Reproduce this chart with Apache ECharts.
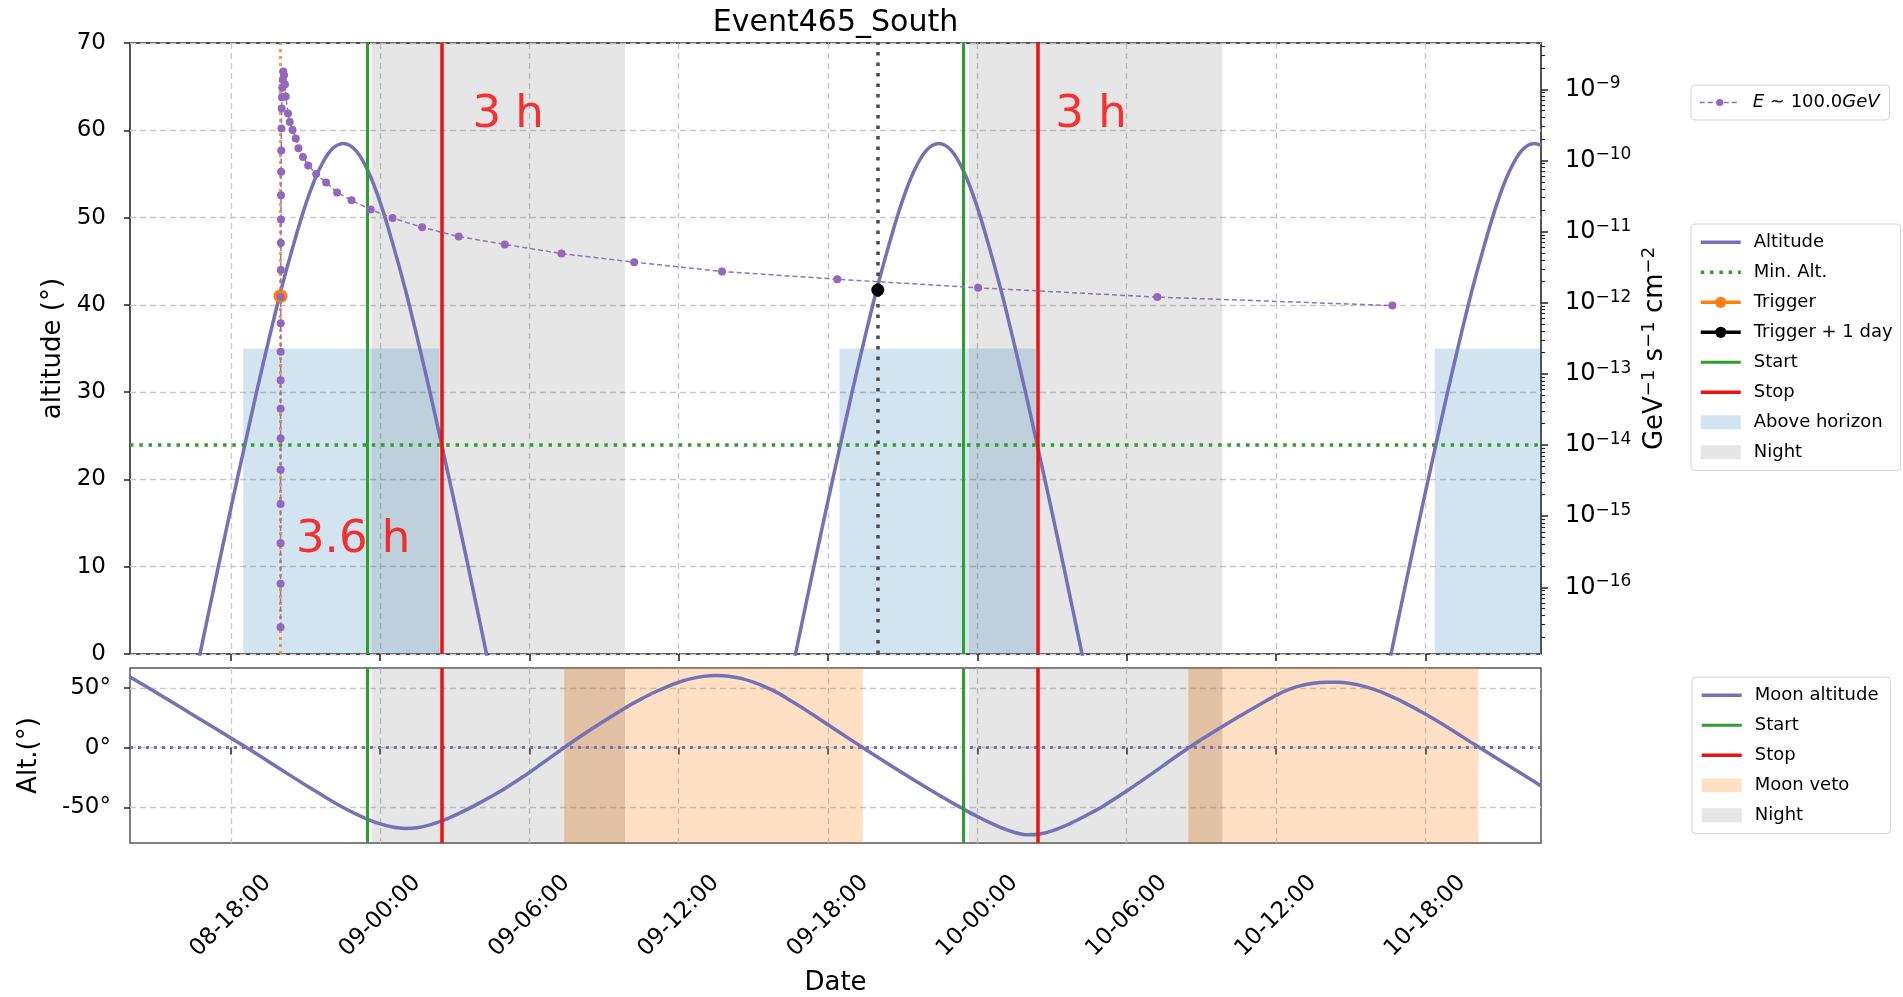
<!DOCTYPE html>
<html>
<head>
<meta charset="utf-8">
<title>Event465_South</title>
<script src="https://cdn.jsdelivr.net/npm/echarts@6/dist/echarts.min.js"></script>
<style>
  html, body { margin: 0; padding: 0; background: #ffffff; }
  #chart { width: 1903px; height: 997px; }
</style>
</head>
<body>
<div id="chart"></div>
<script>
// ---------------------------------------------------------------
// Timeline: all times are hours counted from day 08, 00:00
// ---------------------------------------------------------------
const xMin = 13.95;
const xMax = 70.65;
const dateTickHours = [18, 24, 30, 36, 42, 48, 54, 60, 66];

const triggerHour = 20.0;
const triggerAlt = 41.0;
const triggerNextDayHour = 44.0;
const triggerNextDayAlt = 41.7;

const startHours = [23.47, 47.42];
const stopHours = [26.47, 50.42];
const minAltitude = 24;

const nightSpans = [[23.66, 33.84], [47.66, 57.84]];
const aboveHorizonSpans = [[18.50, 26.38], [42.46, 50.35], [66.38, 70.65]];
const aboveHorizonTop = 35;
const moonVetoSpans = [[31.40, 43.40], [56.48, 68.14]];

// Source altitude (deg), one array pair per transit
const sourcePass1Hours = [16.02, 16.52, 17.02, 17.52, 18.02, 18.52, 19.02, 19.52, 20.02, 20.52, 21.02, 21.52, 22.02, 22.52, 23.02, 23.52, 24.02, 24.52, 25.02, 25.52, 26.02, 26.52, 27.02, 27.52, 28.02, 28.52, 29.02];
const sourcePass1Alt   = [-10.1, -3.3, 3.5, 10.3, 16.9, 23.4, 29.8, 35.9, 41.7, 46.9, 51.6, 55.3, 57.7, 58.5, 57.7, 55.3, 51.6, 46.9, 41.7, 35.9, 29.8, 23.4, 16.9, 10.3, 3.5, -3.3, -10.1];
const sourcePass2Hours = [39.95, 40.45, 40.95, 41.45, 41.95, 42.45, 42.95, 43.45, 43.95, 44.45, 44.95, 45.45, 45.95, 46.45, 46.95, 47.45, 47.95, 48.45, 48.95, 49.45, 49.95, 50.45, 50.95, 51.45, 51.95, 52.45, 52.95];
const sourcePass2Alt   = [-10.1, -3.3, 3.5, 10.3, 16.9, 23.4, 29.8, 35.9, 41.7, 46.9, 51.6, 55.3, 57.7, 58.5, 57.7, 55.3, 51.6, 46.9, 41.7, 35.9, 29.8, 23.4, 16.9, 10.3, 3.5, -3.3, -10.1];
const sourcePass3Hours = [63.88, 64.38, 64.88, 65.38, 65.88, 66.38, 66.88, 67.38, 67.88, 68.38, 68.88, 69.38, 69.88, 70.38, 70.65];
const sourcePass3Alt   = [-10.1, -3.3, 3.5, 10.3, 16.9, 23.4, 29.8, 35.9, 41.7, 46.9, 51.6, 55.3, 57.7, 58.5, 58.3];

// Light curve at E ~ 100 GeV: hours after trigger, flux in GeV^-1 s^-1 cm^-2
const fluxHoursAfterTrigger = [0.0007, 0.0009, 0.0011, 0.0014, 0.0018, 0.0022, 0.0028, 0.0035, 0.0044, 0.0056,
  0.0070, 0.0088, 0.011, 0.014, 0.018, 0.022, 0.028, 0.035, 0.044, 0.056,
  0.070, 0.088, 0.11, 0.14, 0.176,
  0.21, 0.30, 0.37, 0.48, 0.61, 0.72, 0.90, 1.11, 1.43, 1.83,
  2.27, 2.85, 3.62, 4.50, 5.69, 7.16, 9.01, 11.29, 14.21, 17.74,
  22.37, 28.03, 35.23, 44.68];
const fluxValues = [2.75e-17, 1.12e-16, 4.17e-16, 1.48e-15, 4.47e-15, 1.23e-14, 3.24e-14, 8.13e-14, 2.04e-13, 5.13e-13,
  1.20e-12, 2.88e-12, 6.92e-12, 1.48e-11, 3.24e-11, 6.92e-11, 1.38e-10, 2.82e-10, 5.37e-10, 7.76e-10,
  1.05e-9, 1.35e-9, 1.78e-9, 1.58e-9, 1.17e-9,
  7.94e-10, 4.57e-10, 3.47e-10, 2.69e-10, 2.04e-10, 1.48e-10, 1.12e-10, 8.51e-11, 6.46e-11, 4.90e-11,
  3.55e-11, 2.75e-11, 2.04e-11, 1.55e-11, 1.15e-11, 8.51e-12, 6.61e-12, 4.90e-12, 3.72e-12, 2.75e-12,
  2.14e-12, 1.62e-12, 1.20e-12, 9.12e-13];
const fluxName = 'E ∼ 100.0GeV';
const fluxTickExps = [-16, -15, -14, -13, -12, -11, -10, -9];
const fluxExpMin = -16.938;
const fluxExpMax = -8.349;

// Moon altitude (deg)
const moonHours = [13.95, 14.5, 15, 16, 17, 18, 19, 20, 21, 22, 22.5, 23, 23.5, 24, 24.5, 25, 25.5, 26, 26.5, 27,
  27.5, 28, 28.5, 29, 30, 31, 32, 33, 34, 34.5, 35, 35.5, 36, 36.5, 37, 37.5, 38, 38.5, 39, 39.5,
  40, 40.5, 41, 42, 43, 44, 45, 46, 46.5, 47, 47.5, 48, 48.5, 49, 49.5, 50, 50.5, 51, 51.5, 52,
  52.5, 53, 54, 55, 56, 57, 58, 59, 59.5, 60, 60.5, 61, 61.5, 62, 62.5, 63, 63.5, 64, 64.5, 65,
  66, 67, 68, 69, 70, 70.65];
const moonAlt = [59.0, 52.3, 46.0, 33.4, 20.8, 8.1, -4.8, -18.1, -31.2, -43.9, -49.8, -55.2, -59.9, -63.7, -66.3, -67.5, -66.9, -64.6, -61.1, -56.6,
  -51.6, -46.2, -40.4, -34.3, -20.8, -5.9, 8.6, 22.2, 35.0, 40.7, 46.0, 50.6, 54.6, 57.6, 59.5, 60.2, 59.6, 57.8, 54.7, 50.5,
  45.5, 39.2, 32.8, 19.1, 5.4, -8.1, -21.3, -34.0, -40.2, -46.2, -52.0, -57.6, -62.7, -67.3, -70.9, -72.9, -72.2, -69.6, -65.6, -60.7,
  -55.3, -49.6, -36.3, -22.0, -7.2, 6.8, 19.6, 31.8, 37.8, 43.6, 48.4, 51.8, 53.8, 54.6, 54.6, 53.6, 51.4, 48.2, 44.0, 39.2,
  28.0, 15.6, 2.3, -10.6, -23.5, -32.0];
const moonTicks = [-50, 0, 50];
const moonMin = -79.7;
const moonMax = 66.5;

// Duration annotations
const noteTexts = ['3 h', '3 h', '3.6 h'];
const noteHours = [27.69, 51.11, 20.6];
const noteAlt = [60, 60, 11.3];

// ---------------------------------------------------------------
// Styling
// ---------------------------------------------------------------
const FONT = 'DejaVu Sans';
const SLATE = '#7372b7';
const GREEN = '#2ca02c';
const RED = '#ee1111';
const ORANGE = '#ff7f0e';
const PURPLE = '#9467bd';
const NIGHT_FILL = 'rgba(128,128,128,0.2)';
const HORIZON_FILL = 'rgba(31,119,180,0.2)';
const VETO_FILL = 'rgba(255,127,14,0.24)';
const VETO_NIGHT_TINT = 'rgba(140,80,20,0.09)';
const gridLine = { color: '#c9c9c9', width: 1.3, type: [6, 4] };
const tickLine = { color: '#222', width: 1.5 };

function dateLabel(h) {
  const day = 8 + Math.floor(h / 24);
  const hr = Math.round(h - 24 * Math.floor(h / 24));
  return String(day).padStart(2, '0') + '-' + String(hr).padStart(2, '0') + ':00';
}

function zipPairs(xs, ys) { return xs.map((x, i) => [x, ys[i]]); }

const sourceData = []
  .concat(zipPairs(sourcePass1Hours, sourcePass1Alt), [[34, null]])
  .concat(zipPairs(sourcePass2Hours, sourcePass2Alt), [[58, null]])
  .concat(zipPairs(sourcePass3Hours, sourcePass3Alt));

const fluxData = fluxHoursAfterTrigger.map((h, i) => [triggerHour + h, Math.log10(fluxValues[i])]);

// log-scale minor ticks (2..9 x 10^n) expressed as exponents
const minorExps = [];
for (let n = -17; n <= -9; n++) {
  for (let k = 2; k <= 9; k++) {
    const e = n + Math.log10(k);
    if (e > fluxExpMin && e < fluxExpMax) minorExps.push(e);
  }
}

// where the moon veto falls inside the night the two shadings stack darker
const vetoNightSpans = [];
nightSpans.forEach(n => moonVetoSpans.forEach(v => {
  const a = Math.max(n[0], v[0]), b = Math.min(n[1], v[1]);
  if (a < b) vetoNightSpans.push([a, b]);
}));

function spanSeries(name, xIdx, yIdx, spans, fill, yFrom, yTo) {
  return {
    name, type: 'line', xAxisIndex: xIdx, yAxisIndex: yIdx, data: [], z: 1,
    symbol: 'none', itemStyle: { color: fill }, lineStyle: { color: fill },
    markArea: {
      silent: true, itemStyle: { color: fill, borderWidth: 0 },
      data: spans.map(s => (yFrom === undefined)
        ? [{ xAxis: s[0] }, { xAxis: s[1] }]
        : [{ xAxis: s[0], yAxis: yFrom }, { xAxis: s[1], yAxis: yTo }])
    }
  };
}

function vLineSeries(name, xIdx, yIdx, xs, style, z) {
  return {
    name, type: 'line', xAxisIndex: xIdx, yAxisIndex: yIdx, data: [], z: z || 4,
    symbol: 'none', itemStyle: { color: style.color }, lineStyle: style,
    markLine: {
      silent: true, symbol: ['none', 'none'], label: { show: false },
      lineStyle: style, data: xs.map(x => ({ xAxis: x }))
    }
  };
}

const startStyle = { color: GREEN, width: 3, type: 'solid' };
const stopStyle = { color: RED, width: 3.5, type: 'solid' };

const supRich = {
  b: { fontSize: 24, lineHeight: 28 },
  sup: { fontSize: 17, lineHeight: 18, verticalAlign: 'top' }
};

const legendBase = {
  orient: 'vertical', align: 'left', selectedMode: false,
  backgroundColor: 'rgba(255,255,255,0.8)', borderColor: '#d4d4d4', borderWidth: 1, borderRadius: 4,
  itemWidth: 40, itemHeight: 14, itemGap: 10,
  lineStyle: { width: 'inherit' },
  textStyle: { fontFamily: FONT, fontSize: 18, color: '#000', lineHeight: 20,
    rich: { g: { width: 8 }, i: { fontStyle: 'italic' } } },
  formatter: name => '{g| }' + name
};

const option = {
  animation: false,
  backgroundColor: '#ffffff',
  textStyle: { fontFamily: FONT },
  title: {
    text: 'Event465_South', left: 835.5, top: 8, textAlign: 'center', padding: 0,
    textStyle: { fontFamily: FONT, fontSize: 30, fontWeight: 'normal', color: '#000' }
  },
  grid: [
    { left: 130, top: 43, width: 1411, height: 611, show: true, borderColor: '#1a1a1a', borderWidth: 1.5,
      backgroundColor: 'transparent', containLabel: false, outerBoundsMode: 'none' },
    { left: 130, top: 668, width: 1411, height: 175, show: true, borderColor: '#555555', borderWidth: 1.5,
      backgroundColor: 'transparent', containLabel: false, outerBoundsMode: 'none' }
  ],
  xAxis: [
    {
      type: 'value', gridIndex: 0, min: xMin, max: xMax,
      axisLine: { show: false },
      axisTick: { show: true, inside: false, length: 7, customValues: dateTickHours, lineStyle: tickLine },
      axisLabel: { show: false },
      splitLine: { show: true, lineStyle: gridLine }
    },
    {
      type: 'value', gridIndex: 1, min: xMin, max: xMax,
      axisLine: { show: false },
      axisTick: { show: true, inside: false, length: 7, customValues: dateTickHours, lineStyle: tickLine },
      axisLabel: {
        show: true, customValues: dateTickHours, formatter: v => dateLabel(v),
        rotate: 45, align: 'center', verticalAlign: 'middle', margin: 73,
        fontFamily: FONT, fontSize: 23, color: '#000'
      },
      splitLine: { show: true, lineStyle: gridLine },
      name: 'Date', nameLocation: 'middle', nameGap: 127, nameMoveOverlap: false,
      nameTextStyle: { fontFamily: FONT, fontSize: 26, color: '#000' }
    }
  ],
  yAxis: [
    {
      type: 'value', gridIndex: 0, position: 'left', min: 0, max: 70, interval: 10,
      axisLine: { show: false },
      axisTick: { show: true, inside: false, length: 6, lineStyle: tickLine },
      axisLabel: { fontFamily: FONT, fontSize: 23, color: '#000', margin: 24 },
      splitLine: { show: true, lineStyle: gridLine },
      name: 'altitude (°)', nameLocation: 'middle', nameGap: 64, nameMoveOverlap: false,
      nameTextStyle: { fontFamily: FONT, fontSize: 26, color: '#000' }
    },
    {
      type: 'value', gridIndex: 0, position: 'right', min: fluxExpMin, max: fluxExpMax,
      axisLine: { show: false },
      axisTick: { show: true, inside: false, length: 7, customValues: fluxTickExps, lineStyle: tickLine },
      axisLabel: {
        customValues: fluxTickExps, margin: 24, color: '#000', fontFamily: FONT,
        formatter: v => '{b|10}{sup|−' + Math.abs(Math.round(v)) + '}',
        rich: supRich
      },
      splitLine: { show: false },
      name: '{b|GeV}{sup|−1}{b| s}{sup|−1}{b| cm}{sup|−2}',
      nameLocation: 'middle', nameGap: 99, nameMoveOverlap: false,
      nameTextStyle: { fontFamily: FONT, color: '#000',
        rich: { b: { fontSize: 26, lineHeight: 30 }, sup: { fontSize: 18, lineHeight: 20, verticalAlign: 'top' } } }
    },
    {
      type: 'value', gridIndex: 0, position: 'right', min: fluxExpMin, max: fluxExpMax,
      axisLine: { show: false },
      axisTick: { show: true, inside: false, length: 4, customValues: minorExps, lineStyle: { color: '#222', width: 1.1 } },
      axisLabel: { show: false },
      splitLine: { show: false }
    },
    {
      type: 'value', gridIndex: 1, position: 'left', min: moonMin, max: moonMax,
      axisLine: { show: false },
      axisTick: { show: true, inside: false, length: 6, customValues: moonTicks, lineStyle: tickLine },
      axisLabel: { customValues: moonTicks, formatter: v => v + '°', fontFamily: FONT, fontSize: 23, color: '#000', margin: 19 },
      splitLine: { show: true, lineStyle: gridLine },
      name: 'Alt.(°)', nameLocation: 'middle', nameGap: 88, nameMoveOverlap: false,
      nameTextStyle: { fontFamily: FONT, fontSize: 26, color: '#000' }
    }
  ],
  legend: [
    Object.assign({}, legendBase, {
      left: 1691, top: 85, padding: [7.5, 10, 7.5, 8], itemHeight: 9,
      lineStyle: { width: 1.5 },
      formatter: name => '{g| }' + name.replace(/^E/, '{i|E}').replace(/GeV$/, '{i|GeV}'),
      data: [{ name: fluxName }]
    }),
    Object.assign({}, legendBase, {
      left: 1691, top: 224, padding: [8.3, 8, 8.3, 8],
      data: [
        { name: 'Altitude', itemStyle: { opacity: 0 } },
        { name: 'Min. Alt.', itemStyle: { opacity: 0 } },
        { name: 'Trigger' },
        { name: 'Trigger + 1 day' },
        { name: 'Start', itemStyle: { opacity: 0 } },
        { name: 'Stop', itemStyle: { opacity: 0 } },
        { name: 'Above horizon', icon: 'rect', itemStyle: { color: HORIZON_FILL, opacity: 1, borderWidth: 0 } },
        { name: 'Night', icon: 'rect', itemStyle: { color: NIGHT_FILL, opacity: 1, borderWidth: 0 } }
      ]
    }),
    Object.assign({}, legendBase, {
      left: 1692, top: 677, padding: [8.3, 12, 8.3, 8],
      data: [
        { name: 'Moon altitude', itemStyle: { opacity: 0 } },
        { name: 'Start', itemStyle: { opacity: 0 } },
        { name: 'Stop', itemStyle: { opacity: 0 } },
        { name: 'Moon veto', icon: 'rect', itemStyle: { color: VETO_FILL, opacity: 1, borderWidth: 0 } },
        { name: 'Night', icon: 'rect', itemStyle: { color: NIGHT_FILL, opacity: 1, borderWidth: 0 } }
      ]
    })
  ],
  series: [
    // ---- upper panel: source visibility ----
    spanSeries('Night', 0, 0, nightSpans, NIGHT_FILL),
    spanSeries('Above horizon', 0, 0, aboveHorizonSpans, HORIZON_FILL, 0, aboveHorizonTop),
    {
      name: 'Min. Alt.', type: 'line', xAxisIndex: 0, yAxisIndex: 0, data: [], z: 2, symbol: 'none',
      itemStyle: { color: GREEN }, lineStyle: { color: GREEN, width: 3.5, type: [3.5, 5.8] },
      markLine: { silent: true, symbol: ['none', 'none'], label: { show: false },
        lineStyle: { color: GREEN, width: 3.5, type: [3.5, 5.8] }, data: [{ yAxis: minAltitude }] }
    },
    {
      name: 'Altitude', type: 'line', xAxisIndex: 0, yAxisIndex: 0, z: 3,
      data: sourceData, smooth: 0.35, symbol: 'none', connectNulls: false, clip: true,
      itemStyle: { color: SLATE }, lineStyle: { color: SLATE, width: 3.5 }
    },
    vLineSeries('Start', 0, 0, startHours, startStyle, 4),
    vLineSeries('Stop', 0, 0, stopHours, stopStyle, 4),
    {
      name: 'Trigger', type: 'line', xAxisIndex: 0, yAxisIndex: 0, z: 5,
      data: [[triggerHour, triggerAlt]], symbol: 'circle', symbolSize: 14,
      itemStyle: { color: ORANGE }, lineStyle: { color: ORANGE, width: 3.5 },
      markLine: { silent: true, symbol: ['none', 'none'], label: { show: false },
        lineStyle: { color: 'rgba(255,127,14,0.8)', width: 3, type: [3, 4] },
        data: [{ xAxis: triggerHour }] }
    },
    {
      name: fluxName, type: 'line', xAxisIndex: 0, yAxisIndex: 1, z: 6,
      data: fluxData, symbol: 'circle', symbolSize: 8, showSymbol: true, clip: true,
      itemStyle: { color: PURPLE }, lineStyle: { color: '#8f74b8', width: 1.5, type: [5, 3] }
    },
    {
      name: 'Trigger + 1 day', type: 'line', xAxisIndex: 0, yAxisIndex: 0, z: 7,
      data: [[triggerNextDayHour, triggerNextDayAlt]], symbol: 'circle', symbolSize: 13,
      itemStyle: { color: '#000' }, lineStyle: { color: '#000', width: 3.5 },
      markLine: { silent: true, symbol: ['none', 'none'], label: { show: false },
        lineStyle: { color: '#4a4a4a', width: 3.5, type: [3.5, 7] },
        data: [{ xAxis: triggerNextDayHour }] }
    },
    {
      name: 'durations', type: 'scatter', xAxisIndex: 0, yAxisIndex: 0, z: 8, silent: true,
      symbol: 'circle', symbolSize: 1, itemStyle: { color: 'rgba(0,0,0,0)' },
      data: noteHours.map((h, i) => ({ value: [h, noteAlt[i]], label: { formatter: noteTexts[i] } })),
      label: { show: true, position: 'right', distance: 0, offset: [0, -15],
        color: '#ff0000', fontFamily: FONT, fontSize: 45 }
    },
    // ---- lower panel: moon ----
    spanSeries('Night', 1, 3, nightSpans, NIGHT_FILL),
    spanSeries('Moon veto', 1, 3, moonVetoSpans, VETO_FILL),
    spanSeries('veto during night', 1, 3, vetoNightSpans, VETO_NIGHT_TINT),
    {
      name: 'Moon altitude', type: 'line', xAxisIndex: 1, yAxisIndex: 3, z: 3,
      data: zipPairs(moonHours, moonAlt), smooth: 0.2, symbol: 'none', clip: true,
      itemStyle: { color: SLATE }, lineStyle: { color: SLATE, width: 3.5 },
      markLine: { silent: true, symbol: ['none', 'none'], label: { show: false },
        lineStyle: { color: SLATE, width: 3, type: [3, 5] }, data: [{ yAxis: 0 }] }
    },
    vLineSeries('Start', 1, 3, startHours, startStyle, 4),
    vLineSeries('Stop', 1, 3, stopHours, stopStyle, 4)
  ]
};

const chart = echarts.init(document.getElementById('chart'), null, { renderer: 'canvas', width: 1903, height: 997 });
chart.setOption(option);
</script>
</body>
</html>
